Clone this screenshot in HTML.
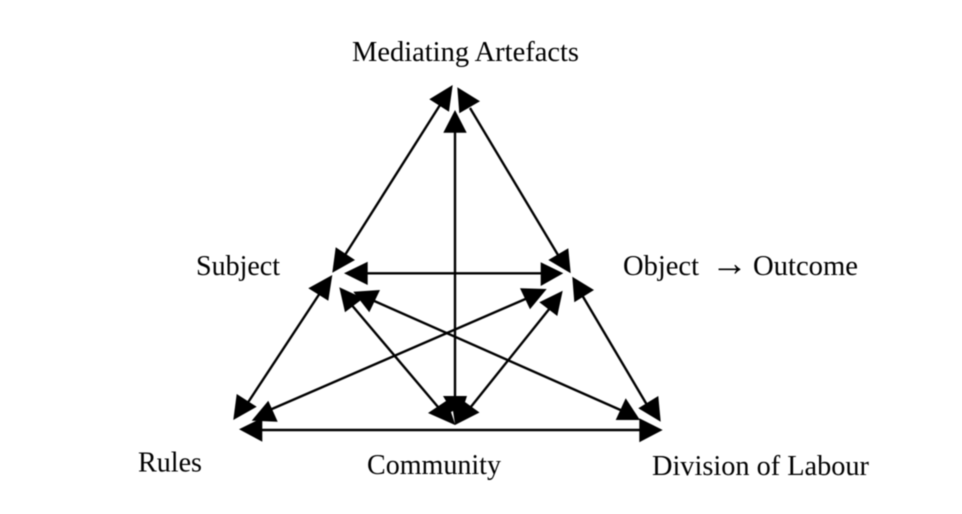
<!DOCTYPE html>
<html>
<head>
<meta charset="utf-8">
<style>
html,body{margin:0;padding:0;background:#fff;width:962px;height:514px;overflow:hidden}
svg{display:block;filter:blur(0.4px)}
text{font-family:"Liberation Serif","DejaVu Serif",serif;font-size:28.3px;fill:#000}
line{stroke:#000;stroke-width:2.4}
polygon{fill:#000}
</style>
</head>
<body>
<svg width="962" height="514" viewBox="0 0 962 514" xmlns="http://www.w3.org/2000/svg">
<line x1="440" y1="105" x2="345" y2="255"/>
<line x1="470" y1="108" x2="558" y2="255"/>
<line x1="455" y1="125" x2="455" y2="405"/>
<line x1="360" y1="273.3" x2="550" y2="273.3"/>
<line x1="320" y1="293" x2="245" y2="407"/>
<line x1="350" y1="303" x2="438" y2="407"/>
<line x1="372" y1="300" x2="625" y2="412"/>
<line x1="530" y1="297" x2="265" y2="412"/>
<line x1="550" y1="308" x2="470" y2="408"/>
<line x1="582" y1="295" x2="650" y2="410"/>
<line x1="255" y1="430" x2="645" y2="430"/>

<polygon points="452.7,85 429.3,99.3 449,111.7"/>
<polygon points="332.3,272.7 335.7,247.3 355,260"/>
<polygon points="457.3,87.3 480,101.3 459.3,113.3"/>
<polygon points="570.7,273.3 548.3,260 568.3,248.3"/>
<polygon points="455,110 443.3,132.7 466.7,132.7"/>
<polygon points="344,273.3 367.7,261.7 367.7,285"/>
<polygon points="563.3,273.3 540.7,262.3 540.7,286"/>
<polygon points="332.3,275 308.3,288.3 328.3,300.7"/>
<polygon points="233.3,420 236.7,394 256.7,406.7"/>
<polygon points="339.3,287.3 363.3,298.3 345,312.3"/>
<polygon points="353.3,291.7 380,290 369.3,312.3"/>
<polygon points="640,420 615.7,420 625.7,398.3"/>
<polygon points="546.7,289 520,288.3 530,309.3"/>
<polygon points="251.7,420.7 268.3,400.7 277.7,421.7"/>
<polygon points="562.7,290.7 539.3,302.3 557.3,316"/>
<polygon points="572.3,276.7 594,290 574.3,302.3"/>
<polygon points="660.7,421.7 638.3,408.3 658.3,396"/>
<polygon points="239,429.3 262.3,417.7 262.3,441.7"/>
<polygon points="662.7,430 639.3,418.3 639.3,442.3"/>

<polygon points="443,396 467,396 465,402 479.5,412.5 455,425 428,413 446,401"/>
<polygon points="451,412 453,411 455,424" style="fill:#fff"/>

<text x="352" y="61" textLength="227" lengthAdjust="spacingAndGlyphs">Mediating Artefacts</text>
<text x="196" y="275" textLength="84" lengthAdjust="spacingAndGlyphs">Subject</text>
<text x="623" y="275" textLength="76" lengthAdjust="spacingAndGlyphs">Object</text>
<text x="711" y="275.7" style="font-size:37px">→</text>
<text x="753" y="275" textLength="105" lengthAdjust="spacingAndGlyphs">Outcome</text>
<text x="138" y="471.5" textLength="64" lengthAdjust="spacingAndGlyphs">Rules</text>
<text x="367" y="474" textLength="134" lengthAdjust="spacingAndGlyphs">Community</text>
<text x="652" y="475" textLength="217" lengthAdjust="spacingAndGlyphs">Division of Labour</text>
</svg>
</body>
</html>
